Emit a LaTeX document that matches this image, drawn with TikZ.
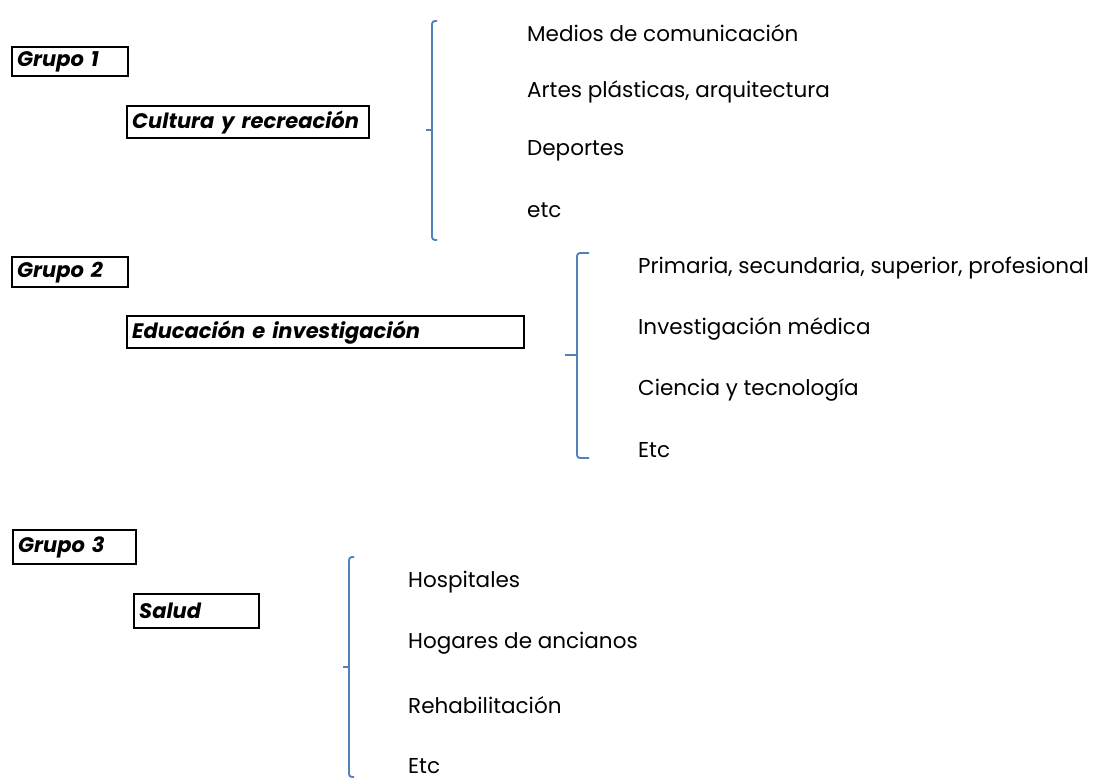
\documentclass[tikz,border=0pt]{standalone}
\usepackage{fontspec}
\setmainfont{Poppins}
\usepackage{tikz}
\usetikzlibrary{positioning}

\definecolor{braceblue}{HTML}{4F81BD}

\begin{document}
\begin{tikzpicture}[
    x=1pt, y=-1pt,
    grp/.style={draw, line width=2.4pt, anchor=north west, inner xsep=5pt, inner ysep=0pt,
      align=left, font=\fontsize{21}{24}\selectfont\bfseries\itshape},
    item/.style={anchor=west, inner sep=0pt, font=\fontsize{21.5}{25}\selectfont},
    brace/.style={draw=braceblue, line width=1.9pt, rounded corners=3pt}
]
\useasboundingbox (0,0) rectangle (1107,779);

% grupo 1
\node[grp, text width=106pt, minimum height=29pt] (g1) at (11,46) {Grupo 1};
\node[grp, text width=232pt, minimum height=32pt] (cultura) at (126,105) {Cultura y recreación};
\draw[brace] (437,21) -- (432,21) -- (432,240) -- (437,240);
\draw[brace] (432,130) -- (426,130);
\node[item] (medios) at (527,33) {Medios de comunicación};
\node[item] (artes) at (527,92) {Artes plásticas, arquitectura};
\node[item] (deportes) at (527,151) {Deportes};
\node[item] (etc1) at (527,210) {etc};

% grupo 2
\node[grp, text width=106pt, minimum height=30pt] (g2) at (11,256) {Grupo 2};
\node[grp, text width=387pt, minimum height=32pt] (educacion) at (126,315) {Educación e investigación};
\draw[brace] (589,253) -- (577,253) -- (577,458) -- (589,458);
\draw[brace] (577,355) -- (565,355);
\node[item] (primaria) at (638,268) {Primaria, secundaria, superior, profesional};
\node[item] (medica) at (638,329) {Investigación médica};
\node[item] (ciencia) at (638,390) {Ciencia y tecnología};
\node[item] (etc2) at (638,450) {Etc};

% grupo 3
\node[grp, text width=113pt, minimum height=34pt] (g3) at (12,529) {Grupo 3};
\node[grp, text width=115pt, minimum height=34pt] (salud) at (133,593) {Salud};
\draw[brace] (354,557) -- (349,557) -- (349,777) -- (354,777);
\draw[brace] (349,667) -- (343,667);
\node[item] (hospitales) at (408,582) {Hospitales};
\node[item] (hogares) at (408,643) {Hogares de ancianos};
\node[item] (rehab) at (408,705) {Rehabilitación};
\node[item] (etc3) at (408,766) {Etc};
\end{tikzpicture}
\end{document}
